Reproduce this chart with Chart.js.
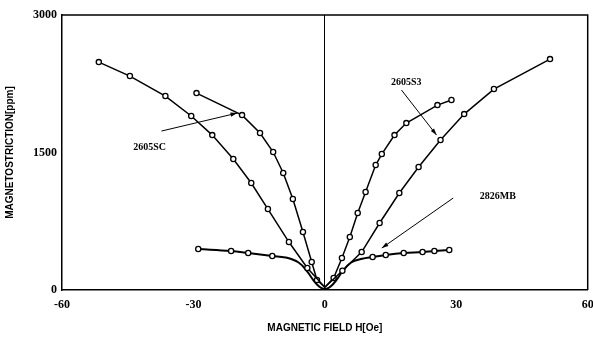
<!DOCTYPE html>
<html>
<head>
<meta charset="utf-8">
<script src="https://cdn.jsdelivr.net/npm/chart.js@4/dist/chart.umd.min.js"></script>
<style>
  html, body { margin: 0; padding: 0; background: #fff; }
  #wrap { width: 593px; height: 338px; }
</style>
</head>
<body>
<div id="wrap"><canvas id="msChart"></canvas></div>
<script>
// magnetic field (Oe) and magnetostriction (ppm)
const fieldS3 = [-51.6, -44.5, -36.4, -30.5, -25.7, -20.9, -16.8, -13.0, -8.2, -4.0, 0, 4.0, 8.4, 12.5, 17.0, 21.4, 26.4, 31.8, 38.6, 51.4];
const strainS3 = [2486, 2334, 2116, 1898, 1690, 1429, 1167, 883, 523, 240, 30, 210, 414, 731, 1058, 1341, 1636, 1919, 2192, 2519];

const fieldSC = [-29.3, -18.9, -14.8, -11.8, -9.5, -7.3, -5.0, -3.0, -1.8, 0, 2.0, 3.9, 5.7, 7.5, 9.3, 11.6, 13.0, 15.9, 18.6, 25.7, 28.9];
const strainSC = [2148, 1908, 1712, 1505, 1276, 992, 632, 305, 109, 30, 131, 349, 578, 840, 1069, 1363, 1483, 1690, 1821, 2017, 2072];

const fieldMB = [-28.9, -21.4, -17.5, -12.0, -9, -6, -4, -2, 0, 2, 4, 6, 8.5, 10.9, 13.9, 18.0, 22.3, 25.0, 28.4];
const strainMB = [447, 425, 403, 371, 355, 300, 200, 70, 10, 70, 200, 300, 340, 360, 382, 403, 414, 425, 436];
// points on the figure that carry no circle marker
const unmarkedMB = [-9, -6, -4, -2, 0, 2, 4, 6, 8.5];

const xTicks = [-60, -30, 0, 30, 60];
const yTicks = [0, 1500, 3000];

// curve labels with arrows, in data units
const labels = [
  { text: '2605SC', x: -40, y: 1560, from: [-37.3, 1734], to: [-20, 1930] },
  { text: '2605S3', x: 18.6, y: 2268, from: [17.5, 2181], to: [25.5, 1690] },
  { text: '2826MB', x: 39.5, y: 1025, from: [29.3, 1003], to: [13, 458] }
];

function pts(xs, ys) {
  return xs.map((x, i) => ({ x: x, y: ys[i] }));
}

const labelPlugin = {
  id: 'labelPlugin',
  afterDatasetsDraw(chart) {
    const ctx = chart.ctx;
    const a = chart.chartArea;
    const sx = chart.scales.x, sy = chart.scales.y;
    ctx.save();
    // box frame top and right
    ctx.strokeStyle = '#000';
    ctx.lineWidth = 1.5;
    ctx.beginPath();
    ctx.moveTo(a.left, a.top);
    ctx.lineTo(a.right, a.top);
    ctx.lineTo(a.right, a.bottom);
    ctx.stroke();

    ctx.font = 'bold 10px "Liberation Serif"';
    ctx.fillStyle = '#000';
    ctx.textAlign = 'center';
    ctx.textBaseline = 'middle';
    labels.forEach(l => {
      ctx.fillText(l.text, sx.getPixelForValue(l.x), sy.getPixelForValue(l.y));
      const x1 = sx.getPixelForValue(l.from[0]), y1 = sy.getPixelForValue(l.from[1]);
      const x2 = sx.getPixelForValue(l.to[0]), y2 = sy.getPixelForValue(l.to[1]);
      ctx.lineWidth = 1;
      ctx.beginPath();
      ctx.moveTo(x1, y1);
      ctx.lineTo(x2, y2);
      ctx.stroke();
      const ang = Math.atan2(y2 - y1, x2 - x1);
      ctx.beginPath();
      ctx.moveTo(x2, y2);
      ctx.lineTo(x2 - 7 * Math.cos(ang - 0.3), y2 - 7 * Math.sin(ang - 0.3));
      ctx.lineTo(x2 - 7 * Math.cos(ang + 0.3), y2 - 7 * Math.sin(ang + 0.3));
      ctx.closePath();
      ctx.fill();
    });
    ctx.restore();
  }
};

function curve(data, extra) {
  return Object.assign({
    data: data,
    showLine: true,
    borderColor: '#000',
    borderWidth: 1.5,
    pointRadius: 2.6,
    pointBorderWidth: 1.3,
    pointBackgroundColor: '#fff',
    pointBorderColor: '#000',
    tension: 0
  }, extra);
}

new Chart(document.getElementById('msChart'), {
  type: 'scatter',
  data: {
    datasets: [
      curve(pts(fieldS3, strainS3), {
        label: '2605S3',
        pointRadius: ctx => (Math.abs(fieldS3[ctx.dataIndex]) < 1 ? 0 : 2.6)
      }),
      curve(pts(fieldSC, strainSC), {
        label: '2605SC',
        pointRadius: ctx => (fieldSC[ctx.dataIndex] === 0 ? 0 : 2.6)
      }),
      curve(pts(fieldMB, strainMB), {
        label: '2826MB',
        tension: 0.4,
        borderWidth: 2,
        pointRadius: ctx => (unmarkedMB.includes(fieldMB[ctx.dataIndex]) ? 0 : 2.6)
      })
    ]
  },
  options: {
    responsive: true,
    maintainAspectRatio: false,
    animation: false,
    layout: { padding: { top: 15, right: 3, left: 0, bottom: 0 } },
    plugins: {
      legend: { display: false },
      tooltip: { enabled: false }
    },
    scales: {
      x: {
        type: 'linear',
        min: -60,
        max: 60,
        afterBuildTicks: s => { s.ticks = xTicks.map(v => ({ value: v })); },
        afterFit: s => { s.height = 48; s.paddingRight = 0; s.paddingLeft = 0; },
        border: { color: '#000', width: 1.5 },
        grid: {
          drawTicks: false,
          color: c => (c.tick && c.tick.value === 0 ? '#000' : 'rgba(0,0,0,0)'),
          lineWidth: 1
        },
        ticks: {
          padding: 8,
          color: '#000',
          callback: v => String(v),
          font: { family: '"Liberation Serif"', size: 12, weight: 'bold' }
        },
        title: {
          display: true,
          text: 'MAGNETIC FIELD H[Oe]',
          color: '#000',
          padding: { top: 4 },
          font: { family: '"Liberation Sans"', size: 10, weight: 'bold' }
        }
      },
      y: {
        min: 0,
        max: 3000,
        afterBuildTicks: s => { s.ticks = yTicks.map(v => ({ value: v })); },
        afterFit: s => { s.width = 62; s.paddingTop = 0; s.paddingBottom = 0; },
        border: { color: '#000', width: 1.5 },
        grid: { display: false, drawTicks: false },
        ticks: {
          padding: 5,
          color: '#000',
          callback: v => String(v),
          font: { family: '"Liberation Serif"', size: 12, weight: 'bold' }
        },
        title: {
          display: true,
          text: 'MAGNETOSTRICTION[ppm]',
          color: '#000',
          padding: { bottom: 4 },
          font: { family: '"Liberation Sans"', size: 10, weight: 'bold' }
        }
      }
    }
  },
  plugins: [labelPlugin]
});
</script>
</body>
</html>
